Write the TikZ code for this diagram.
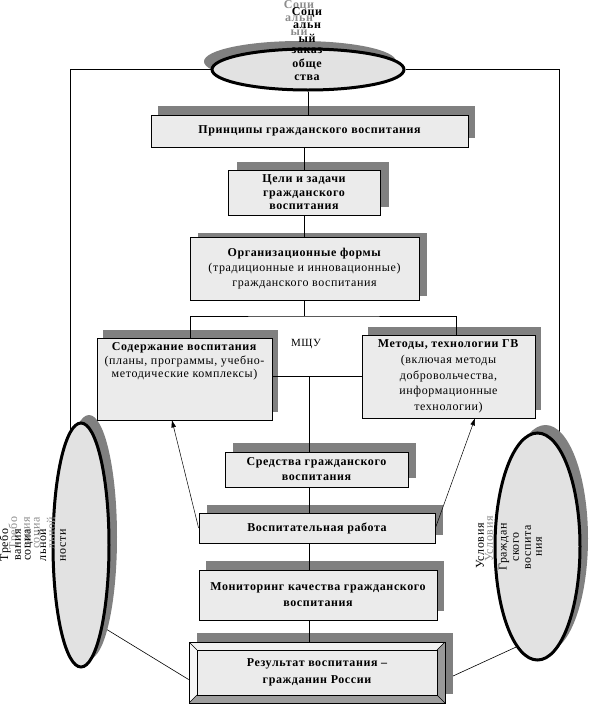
\documentclass[tikz,border=0pt]{standalone}
\usepackage{fontspec}
\setmainfont{Liberation Serif}[LetterSpace=5]
\usetikzlibrary{shapes.geometric,shadows,arrows.meta,calc}
\definecolor{boxfill}{HTML}{EBEBEB}
\definecolor{shadowgray}{HTML}{808080}
\definecolor{ellfill}{HTML}{E2E2E2}
\definecolor{gtext}{HTML}{8C8C8C}
\pgfdeclarelayer{bg}
\pgfsetlayers{bg,main}
\begin{document}
\begin{tikzpicture}[x=1pt,y=-1pt,
  font=\fontsize{12}{15}\selectfont,
  box/.style={draw=black, fill=boxfill, line width=0.8pt, inner sep=0pt, align=center},
  shad/.style 2 args={drop shadow={shadow xshift=#1, shadow yshift=#2, opacity=1, fill=shadowgray}},
  ell/.style={ellipse, draw=black, line width=3pt, fill=ellfill, inner sep=0pt},
  conn/.style={draw=black, line width=0.8pt},
  arr/.style={draw=black, line width=0.5pt, -{Triangle[length=7pt,width=4.5pt]}},
  btxt/.style={font=\fontsize{12}{13}\selectfont\bfseries, inner sep=0pt},
  gtxt/.style={font=\fontsize{12}{13}\selectfont\bfseries, text=gtext, inner sep=0pt},
  vtxt/.style={font=\fontsize{12}{13}\selectfont, inner sep=0pt, rotate=90},
  vgtxt/.style={font=\fontsize{12}{13}\selectfont, inner sep=0pt, rotate=90, text=gtext},
]
\useasboundingbox (0,0) rectangle (594,710);

% ---- ellipses ----
\node[gtxt] at (299,6) {Соци};
\node[gtxt] at (299,19) {альн};
\node[gtxt] at (299,31) {ый};
\node[ell, minimum width=192pt, minimum height=41pt, shad={-8pt}{8pt}] (top) at (308,69.5) {};
\node[btxt] at (307,13) {Соци};
\node[btxt] at (307,26) {альн};
\node[btxt] at (307,38) {ый};
\node[btxt] at (307,51) {заказ};
\node[btxt] at (307,64) {обще};
\node[btxt] at (307,78) {ства};

\node[ell, minimum width=56pt, minimum height=244pt, shad={8pt}{8pt}] (lell) at (81,545) {};
\node[vgtxt] at (14,533) {Требо};
\node[vgtxt] at (27,533) {вания};
\node[vgtxt] at (38,533) {социа};
\node[vgtxt] at (51,533) {льной};
\node[vtxt] at (5,545) {Требо};
\node[vtxt] at (18,545) {вания};
\node[vtxt] at (29,545) {социа};
\node[vtxt] at (42,545) {льной};
\node[vtxt] at (63,545) {ности};

\node[ell, minimum width=85pt, minimum height=227pt, shad={8pt}{8pt}] (rell) at (537.5,546.5) {};
\node[vgtxt] at (489,539) {Условия};
\node[vtxt] at (480,546) {Условия};
\node[vtxt] at (504,547) {Граждан};
\node[vtxt] at (516,547) {ского};
\node[vtxt] at (528,547) {воспита};
\node[vtxt] at (539,547) {ния};

% ---- boxes ----
\node[box, minimum width=317pt, minimum height=32pt, shad={7pt}{9pt}, font=\fontsize{12}{15}\selectfont\bfseries] (princ) at (309.5,131) {Принципы гражданского воспитания};
\node[box, minimum width=152pt, minimum height=45pt, shad={9pt}{8pt}, font=\fontsize{12}{13.5}\selectfont\bfseries] (goals) at (304,192.5) {Цели и задачи\\гражданского\\воспитания};
\node[box, minimum width=229pt, minimum height=63pt, shad={8pt}{4pt}] (org) at (304.5,268.5) {\textbf{Организационные формы}\\(традиционные и инновационные)\\гражданского воспитания};
\node[box, minimum width=175pt, minimum height=82pt, shad={6pt}{8pt}] (sod) at (184.5,379) {};
\node[anchor=north, align=center, inner sep=0pt, font=\fontsize{12}{13.5}\selectfont] at ([yshift=-5pt]sod.north) {\textbf{Содержание воспитания}\\(планы, программы, учебно-\\методические комплексы)};
\node[box, minimum width=173pt, minimum height=83pt, shad={6pt}{8pt}, font=\fontsize{12}{15.8}\selectfont] (met) at (448.5,376.5) {\textbf{Методы, технологии ГВ}\\(включая методы\\добровольчества,\\информационные\\технологии)};
\node[inner sep=0pt, font=\fontsize{11}{12}\selectfont] (mshu) at (306,344) {МЩУ};
\node[box, minimum width=183pt, minimum height=35pt, shad={8pt}{9pt}, font=\fontsize{12}{15}\selectfont\bfseries] (sred) at (316.5,469.5) {Средства гражданского\\воспитания};
\node[box, minimum width=236pt, minimum height=30pt, shad={8pt}{8pt}, font=\fontsize{12}{15}\selectfont\bfseries] (vr) at (317,528) {Воспитательная работа};
\node[box, minimum width=238pt, minimum height=50pt, shad={7pt}{9pt}, font=\fontsize{12}{16}\selectfont\bfseries] (mon) at (318,595) {Мониторинг качества гражданского\\воспитания};
\node[box, minimum width=256pt, minimum height=61pt, shad={8pt}{9pt}, font=\fontsize{12}{17}\selectfont\bfseries,
  path picture={
    \coordinate (ia) at ($(path picture bounding box.north west)+(8,8)$);
    \coordinate (ib) at ($(path picture bounding box.north east)+(-8,8)$);
    \coordinate (ic) at ($(path picture bounding box.south east)+(-8,-8)$);
    \coordinate (id) at ($(path picture bounding box.south west)+(8,-8)$);
    \fill[black!5] (path picture bounding box.north west) -- (path picture bounding box.north east) -- (ib) -- (ia) -- cycle;
    \fill[black!3] (path picture bounding box.north west) -- (ia) -- (id) -- (path picture bounding box.south west) -- cycle;
    \fill[black!40] (path picture bounding box.north east) -- (path picture bounding box.south east) -- (ic) -- (ib) -- cycle;
    \fill[black!38] (path picture bounding box.south west) -- (id) -- (ic) -- (path picture bounding box.south east) -- cycle;
    \draw[line width=0.8pt, fill=boxfill] (ia) rectangle (ic);
    \draw[line width=0.5pt] (path picture bounding box.north west) -- (ia)
      (path picture bounding box.north east) -- (ib)
      (path picture bounding box.south east) -- (ic)
      (path picture bounding box.south west) -- (id);
  }] (res) at (317,672.5) {Результат воспитания –\\гражданин России};

% ---- connectors ----
\coordinate (hj) at (304.5,316);
\coordinate (mj) at ($(sod.east |- met.west)!0.42!(met.west)$);
\draw[conn] (top.south) -- (top.south |- princ.north);
\draw[conn] (princ.south -| goals.north) -- (goals.north);
\draw[conn] (goals.south) -- (goals.south |- org.north);
\draw[conn] (org.south) -- (hj);
\draw[conn] ([xshift=5.5pt]sod.north) |- (hj) -| ([xshift=7.5pt]met.north);
\draw[conn] (sod.east |- met.west) -- (met.west);
\draw[conn] (mj) -- (mj |- sred.north);
\draw[conn] (mj |- sred.south) -- (mj |- vr.north);
\draw[conn] (mj |- vr.south) -- (mj |- mon.north);
\draw[conn] (mj |- mon.south) -- (mj |- res.north);
\draw[arr] (vr.west) -- ([xshift=-12.5pt]sod.south);
\draw[arr] (vr.east) -- ([xshift=26.5pt]met.south);

\begin{pgfonlayer}{bg}
\coordinate (lf) at (70,440);
\coordinate (rf) at (559,445);
\draw[conn] (top.west) -| (lf);
\draw[conn] (top.east) -| (rf);
\draw[draw=black, line width=0.6pt] (lell.285) -- ([yshift=-7pt]res.west);
\draw[draw=black, line width=0.6pt] (rell.258) -- ([yshift=-7pt]res.east);
\end{pgfonlayer}
\end{tikzpicture}
\end{document}
